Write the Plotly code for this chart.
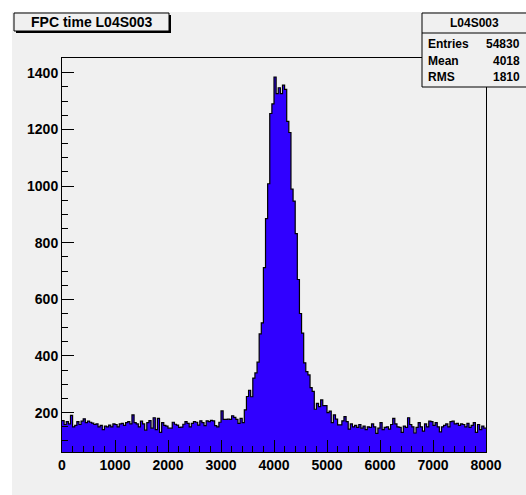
import plotly.graph_objects as go

# ---------------- data ----------------
bin_width = 40
x_min, x_max = 0, 8000
counts = [
    # 0-1000
    172, 158, 168, 160, 190, 150, 155, 168, 158, 170, 178, 165, 170, 166, 163, 158, 160, 150, 155, 140, 152, 150, 156, 150, 160,
    # 1000-2000
    158, 150, 160, 162, 155, 165, 168, 160, 192, 165, 160, 150, 170, 160, 138, 165, 172, 145, 182, 140, 180, 130, 165, 155,
    # 1960-3000
    152, 145, 145, 166, 159, 156, 148, 149, 159, 168, 162, 150, 162, 168, 166, 156, 171, 165, 154, 171, 168, 173, 171, 154, 150, 166,
    # 3000-3520
    206, 176, 176, 177, 176, 189, 183, 176, 162, 180, 165, 210,
    # peak
    257, 279, 256, 322, 340, 378, 478, 517, 712, 885, 1008, 1256, 1290, 1385, 1326, 1347, 1326, 1356, 1341, 1228, 1189,
    989, 947, 832, 670, 550, 481, 376, 345, 333, 288, 275, 212, 233, 221, 245, 225, 225, 200, 205, 165, 192, 177, 157, 157,
    171, 186, 168, 142,
    # 5440-8000
    160, 150, 155, 148, 158, 145, 152, 140, 150, 148, 160, 150, 127, 145, 165, 140, 148, 150, 142, 158, 180, 160, 150, 148,
    130, 152, 148, 182, 158, 150, 128, 148, 165, 150, 135, 160, 150, 170, 168, 155, 165, 150, 132, 150, 155, 160, 150, 168,
    170, 160, 162, 155, 160, 158, 150, 162, 148, 155, 165, 130, 158, 140, 152, 145,
]
hist_title = "FPC time L04S003"
stats_name = "L04S003"
stats_rows = [("Entries", "54830"), ("Mean", "4018"), ("RMS", "1810")]
y_range = [61, 1452]

# ---------------- geometry helpers (pixel -> paper) ----------------
W, H = 526, 495
L, R, T, B = 62, 486, 58, 452


def px(x):
    return (x - L) / (R - L)


def py(y):
    return (B - y) / (B - T)


edges = [x_min + i * bin_width for i in range(len(counts) + 1)]
ys = counts + [counts[-1]]

BG = "#f0f0f0"
FILL = "#3000ff"
FONT = "Liberation Sans, Arial, sans-serif"

fig = go.Figure()
fig.add_trace(go.Scatter(
    x=edges, y=ys, mode="lines", line=dict(shape="hv", color="black", width=1.2),
    fill="tozeroy", fillcolor=FILL, hoverinfo="skip", showlegend=False,
))

shapes = []
# white strips left/top of canvas
shapes.append(dict(type="rect", xref="paper", yref="paper", x0=px(0), x1=px(12), y0=py(H), y1=py(0),
                   fillcolor="white", line=dict(width=0), layer="above"))
shapes.append(dict(type="rect", xref="paper", yref="paper", x0=px(0), x1=px(W), y0=py(12), y1=py(0),
                   fillcolor="white", line=dict(width=0), layer="above"))
# title box with shadow
shapes.append(dict(type="rect", xref="paper", yref="paper", x0=px(16), x1=px(171), y0=py(33), y1=py(15),
                   fillcolor="black", line=dict(width=0), layer="above"))
shapes.append(dict(type="rect", xref="paper", yref="paper", x0=px(14), x1=px(169), y0=py(31), y1=py(13),
                   fillcolor=BG, line=dict(color="black", width=1), layer="above"))
# stats box
shapes.append(dict(type="rect", xref="paper", yref="paper", x0=px(422), x1=px(527), y0=py(87), y1=py(13),
                   fillcolor=BG, line=dict(color="black", width=1), layer="above"))
shapes.append(dict(type="line", xref="paper", yref="paper", x0=px(422), x1=px(527), y0=py(33), y1=py(33),
                   line=dict(color="black", width=1), layer="above"))

annotations = [
    dict(text=hist_title, x=px(29), y=py(22), xref="paper", yref="paper", xanchor="left", yanchor="middle",
         showarrow=False, font=dict(family=FONT, size=14, color="black", weight="bold")),
    dict(text=stats_name, x=px(474), y=py(23), xref="paper", yref="paper", xanchor="center", yanchor="middle",
         showarrow=False, font=dict(family=FONT, size=12, color="black", weight="bold")),
]
for i, (lab, val) in enumerate(stats_rows):
    yy = 44 + 16.5 * i
    annotations.append(dict(text=lab, x=px(426), y=py(yy), xref="paper", yref="paper", xanchor="left",
                            yanchor="middle", showarrow=False,
                            font=dict(family=FONT, size=12, color="black", weight="bold")))
    annotations.append(dict(text=val, x=px(522), y=py(yy), xref="paper", yref="paper", xanchor="right",
                            yanchor="middle", showarrow=False,
                            font=dict(family=FONT, size=12, color="black", weight="bold")))

fig.update_layout(
    width=W, height=H,
    margin=dict(l=L, r=W - R, t=T, b=H - B, pad=0),
    paper_bgcolor=BG, plot_bgcolor=BG,
    shapes=shapes, annotations=annotations,
    xaxis=dict(range=[x_min, x_max], showgrid=False, zeroline=False, showline=True, linecolor="black",
               linewidth=1, mirror=True, ticks="inside", ticklen=12, tickcolor="black", dtick=1000, tick0=0,
               tickfont=dict(family=FONT, size=14, color="black", weight="bold"),
               minor=dict(dtick=200, ticklen=6, ticks="inside", tickcolor="black", showgrid=False)),
    yaxis=dict(range=y_range, showgrid=False, zeroline=False, showline=True, linecolor="black",
               linewidth=1, mirror=True, ticks="inside", ticklen=12, tickcolor="black", dtick=200, tick0=0,
               tickfont=dict(family=FONT, size=14, color="black", weight="bold"),
               minor=dict(dtick=50, ticklen=6, ticks="inside", tickcolor="black", showgrid=False)),
)

fig.write_html(
    "out.html",
    config={"displayModeBar": False},
    post_script="document.body.style.margin='0';document.body.style.overflow='hidden';",
)
